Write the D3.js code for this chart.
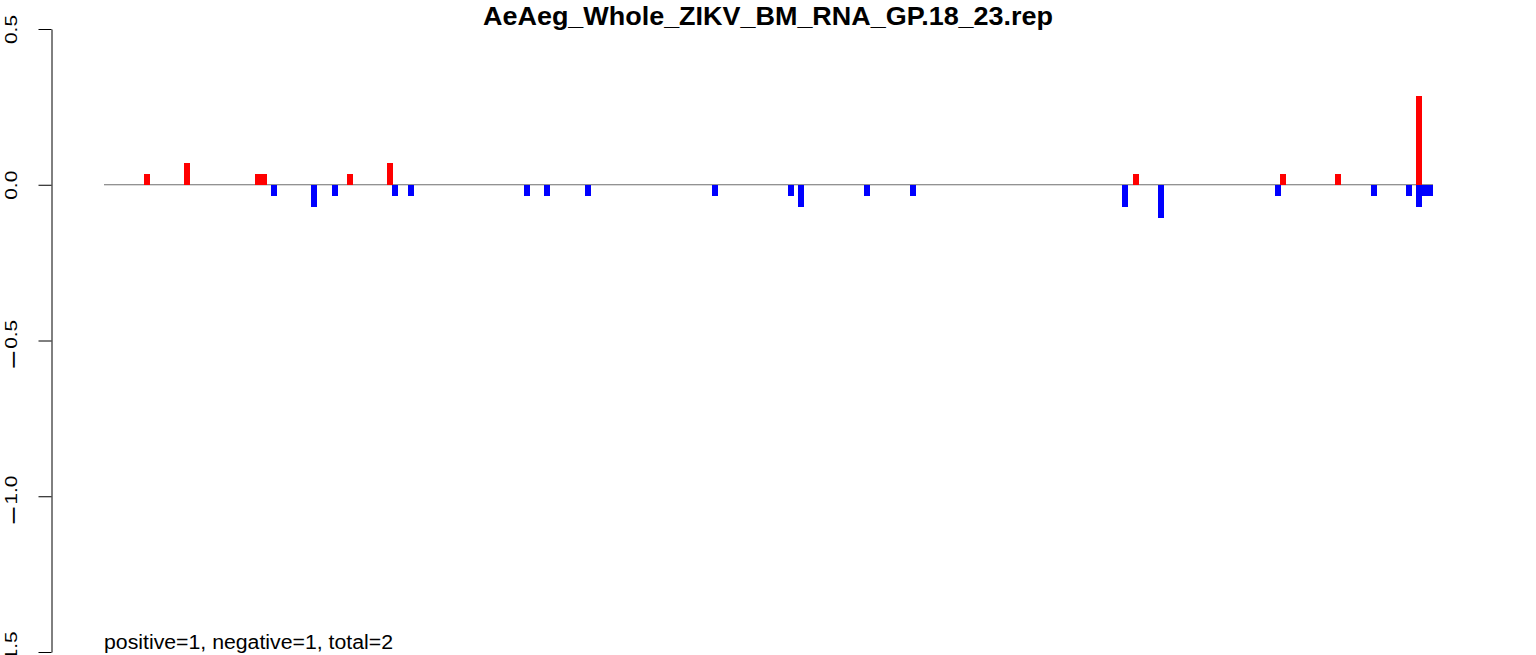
<!DOCTYPE html>
<html>
<head>
<meta charset="utf-8">
<script src="https://cdn.jsdelivr.net/npm/d3@7"></script>
<style>
  html, body { margin: 0; padding: 0; background: #fff; }
  svg { display: block; font-family: "Liberation Sans", Arial, Helvetica, sans-serif; }
</style>
</head>
<body>
<svg id="chart" width="1536" height="655"></svg>
<script>
// ---- data ----
const title = "AeAeg_Whole_ZIKV_BM_RNA_GP.18_23.rep";
const footnote = "positive=1, negative=1, total=2";
const yTicks = [0.5, 0.0, -0.5, -1.0, -1.5];
const yTickLabels = ["0.5", "0.0", "\u22120.5", "\u22121.0", "\u22121.5"];
const positionRange = [0, 1329];
// positive (red) bars: position, value
const posPositions = [40, 80, 151, 157, 243, 283, 1029, 1176, 1231, 1312];
const posValues    = [0.0357, 0.0714, 0.0357, 0.0357, 0.0357, 0.0714, 0.0357, 0.0357, 0.0357, 0.2857];
// negative (blue) bars: position, value
const negPositions = [167, 207, 228, 288, 304, 420, 440, 481, 608, 684, 694, 760, 806, 1018, 1054, 1171, 1267, 1302, 1312, 1318, 1323];
const negValues    = [-0.0357, -0.0714, -0.0357, -0.0357, -0.0357, -0.0357, -0.0357, -0.0357, -0.0357, -0.0357, -0.0714, -0.0357, -0.0357, -0.0714, -0.1071, -0.0357, -0.0357, -0.0357, -0.0714, -0.0357, -0.0357];
const barWidthUnits = 6;

// ---- layout ----
const svg = d3.select("#chart");
const y = d3.scaleLinear().domain([-1.5, 0.5]).range([652, 29]);
const x = d3.scaleLinear().domain(positionRange).range([104, 1433]);

// zero line
svg.append("line")
  .attr("x1", x(positionRange[0])).attr("x2", x(positionRange[1]))
  .attr("y1", y(0)).attr("y2", y(0))
  .attr("stroke", "#6e6e6e").attr("stroke-width", 1);

const bw = x(barWidthUnits) - x(0);
function drawBars(positions, values, color) {
  svg.append("g").selectAll("rect")
    .data(positions.map((p, i) => ({p, v: values[i]})))
    .join("rect")
    .attr("x", d => x(d.p))
    .attr("width", bw)
    .attr("y", d => Math.min(y(d.v), y(0)))
    .attr("height", d => Math.abs(y(d.v) - y(0)))
    .attr("fill", color)
    .attr("shape-rendering", "crispEdges");
}
drawBars(posPositions, posValues, "#ff0000");
drawBars(negPositions, negValues, "#0000ff");

// y axis
const axis = d3.axisLeft(y).tickValues(yTicks)
  .tickFormat(() => "").tickSize(13).tickSizeOuter(0);
const gy = svg.append("g").attr("transform", "translate(51.5,0)").call(axis);
gy.select(".domain").attr("stroke", "#000").attr("stroke-width", 1);
gy.selectAll(".tick line").attr("stroke", "#000");
gy.selectAll(".tick text").remove();
gy.selectAll(".tick").each(function(d, i) {
  const lab = yTickLabels[i];
  const t = d3.select(this).append("text")
    .attr("font-size", 16)
    .attr("fill", "#000")
    .attr("font-family", "Liberation Sans, Arial, sans-serif")
    .attr("text-anchor", "middle")
    .attr("transform", `translate(-34.5,${d < 0 ? 3.5 : 0}) rotate(-90) scale(1.3,1)`);
  if (lab.startsWith("\u2212")) {
    t.append("tspan").attr("font-size", 25).attr("dy", 4.5).text("\u2212");
    t.append("tspan").attr("dy", -4.5).attr("dx", 1).text(lab.slice(1));
  } else {
    t.text(lab);
  }
});

// title
svg.append("text")
  .attr("x", 768).attr("y", 25)
  .attr("text-anchor", "middle")
  .attr("font-weight", "bold")
  .attr("font-size", 25)
  .attr("textLength", 570)
  .attr("lengthAdjust", "spacingAndGlyphs")
  .text(title);

// footnote
svg.append("text")
  .attr("x", 104).attr("y", 649)
  .attr("font-size", 20)
  .attr("textLength", 289)
  .attr("lengthAdjust", "spacingAndGlyphs")
  .text(footnote);
</script>
</body>
</html>
